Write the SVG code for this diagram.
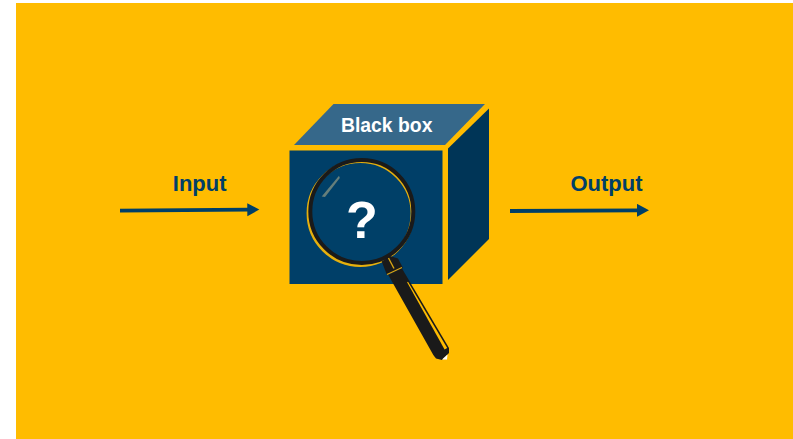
<svg xmlns="http://www.w3.org/2000/svg" width="793" height="439" viewBox="0 0 793 439">
<style>
.lbl{font-family:"Liberation Sans",Arial,sans-serif;font-weight:700}
.dark{fill:#003F68}
.wire{stroke:#003F68;stroke-width:3.800;fill:none}
.blk{fill:#1A1A1A}
</style>
<defs>
<marker id="arrow" markerUnits="userSpaceOnUse" markerWidth="14" markerHeight="14" refX="1" refY="6.500" orient="auto"><path d="M0 0L12 6.500L0 13Z" fill="#003F68"/></marker>
<filter id="soft" x="-20%" y="-20%" width="140%" height="140%"><feGaussianBlur stdDeviation="0.6"/></filter>
</defs>
<rect width="793" height="439" fill="#FFFFFF"/>
<rect x="16" y="3" width="777" height="436" fill="#FFBC00"/>
<g id="connectors">
<path class="wire" d="M120 210.700L248.300 209.700" marker-end="url(#arrow)"/>
<path class="wire" d="M510 211L638 210.300" marker-end="url(#arrow)"/>
</g>
<g id="input"><text class="lbl dark" x="199.700" y="190.700" font-size="22" text-anchor="middle">Input</text></g>
<g id="output"><text class="lbl dark" x="606.500" y="190.500" font-size="22" text-anchor="middle">Output</text></g>
<g id="black-box">
<path d="M333.500 104H485L445 145H294Z" fill="#36688A"/>
<path d="M448 148.500L489 108.500V239L448 280Z" fill="#003557"/>
<rect x="289.500" y="150.500" width="153" height="133.500" fill="#003F68"/>
<text class="lbl" x="386.700" y="131.700" font-size="19.400" text-anchor="middle" fill="#FFFFFF">Black box</text>
</g>
<g id="magnifier">
<circle cx="360.300" cy="213.200" r="52" fill="#003F68" stroke="#E6B010" stroke-width="3.400" filter="url(#soft)"/>
<circle cx="361.800" cy="211.500" r="51.500" fill="none" stroke="#1A1A1A" stroke-width="4"/>
<path d="M339 175.700L321.700 196.500L325 197L339.800 178Z" fill="#7F8F80" opacity=".8"/>
<path d="M381.700 261.500L390 256L398 258.500L403 268L387 275Z" fill="#1A1A1A"/>
<path d="M388.500 258L394 268.500" stroke="#D9A514" stroke-width="1.400"/>
<path d="M388.300 275L401.700 268L449 348V353L442 360L436 358.500L433.300 355Z" class="blk"/>
<path d="M387 274.500L402 267.500" stroke="#D9A514" stroke-width="1.200" fill="none"/>
<path d="M408 281.700L447.200 348L444.600 349.500L407.100 282.200Z" fill="#FFBC00"/>
<path d="M442 359.500L447.500 354.500L447 359.500Z" fill="#FFFFFF"/>
<text class="lbl" x="362" y="238" font-size="52" text-anchor="middle" fill="#FFFFFF">?</text>
</g>
</svg>
